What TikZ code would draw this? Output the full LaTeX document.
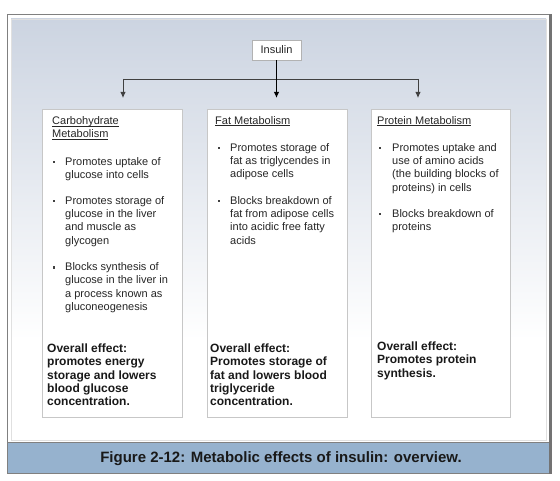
\documentclass[tikz,border=0pt]{standalone}
\usepackage{fontspec}
\setmainfont{Liberation Sans}
\usetikzlibrary{arrows.meta}
\definecolor{capblue}{RGB}{150,178,206}
\definecolor{paneltop}{RGB}{204,212,225}
\newcommand\titleul[1]{\underline{\raisebox{0pt}[\height][0pt]{#1}}}
\begin{document}
\begin{tikzpicture}[x=1pt,y=-1pt,
  txt/.style={anchor=north west, inner sep=0pt, align=left, text=black!85,
    font=\fontsize{11}{13.3}\selectfont},
  boldtxt/.style={anchor=north west, inner sep=0pt, align=left, text=black!90,
    font=\fontsize{12}{13.4}\selectfont\bfseries},
  bul/.style={rectangle, fill=black!75, minimum size=2.2pt, inner sep=0pt},
  metabox/.style={draw=black!22, fill=white, line width=0.8pt, anchor=north west,
    inner sep=0pt, minimum width=140pt, minimum height=308pt},
  link/.style={draw=black!75, line width=0.9pt},
  arr/.style={link, -{Latex[length=6pt,width=5.5pt]}, shorten >=11pt},
]
\useasboundingbox (0,0) rectangle (560,481);
\fill[white] (0,0) rectangle (560,481);
% frame and panel
\fill[white] (7,14) rectangle (551,474);
\shade[top color=paneltop, bottom color=white] (11,19) rectangle (546,340);
\draw[black!12, line width=0.8pt] (11,19) rectangle (546,440);
\fill[capblue] (8,443) rectangle (550,473);
\draw[black!50, line width=1pt] (8,442.5) -- (550,442.5);
\draw[black!50, line width=1.2pt] (7.5,14.5) rectangle (550,473.5);
\draw[black!55, line width=3pt] (550.5,13.9) -- (550.5,474.1);
\node[font=\fontsize{15}{18}\selectfont\bfseries, text=black!90] (caption) at (281,459)
  {Figure 2-12: Metabolic effects of insulin: overview.};

% insulin
\node[draw=black!30, fill=white, line width=0.8pt, inner xsep=8.5pt, minimum height=20pt,
  font=\fontsize{11}{13}\selectfont, text=black!85] (ins) at (276.5,50) {Insulin};

% boxes
\node[metabox] (carb) at (41.5,109) {};
\node[metabox] (fat) at (206.5,109) {};
\node[metabox, minimum width=139pt] (prot) at (370.5,109) {};

% connectors
\coordinate (hl) at (123,79);
\coordinate (hr) at (418,79);
\draw[link] (hl) -- (hr);
\draw[arr, draw=black, line width=1.3pt] (ins.south) -- (ins.south |- fat.north);
\draw[arr] (hl) -- (hl |- carb.north);
\draw[arr] (hr) -- (hr |- prot.north);

% carbohydrate
\node[txt] (ct) at (52,116.5) {\titleul{Carbohydrate}\\\titleul{Metabolism}};
\node[bul] (cb1) at (54,162) {};
\node[txt] (c1) at (65,157) {Promotes uptake of\\glucose into cells};
\node[bul] (cb2) at (54,201) {};
\node[txt] (c2) at (65,196) {Promotes storage of\\glucose in the liver\\and muscle as\\glycogen};
\node[bul] (cb3) at (54,267.5) {};
\node[txt] (c3) at (65,262.5) {Blocks synthesis of\\glucose in the liver in\\a process known as\\gluconeogenesis};
\node[boldtxt] (co) at (47,343.5) {Overall effect:\\promotes energy\\storage and lowers\\blood glucose\\concentration.};

% fat
\node[txt] (ft) at (215,116) {\titleul{Fat Metabolism}};
\node[bul] (fb1) at (219,148) {};
\node[txt] (f1) at (230,143) {Promotes storage of\\fat as triglycendes in\\adipose cells};
\node[bul] (fb2) at (219,201) {};
\node[txt] (f2) at (230,196) {Blocks breakdown of\\fat from adipose cells\\into acidic free fatty\\acids};
\node[boldtxt] (fo) at (210,343.5) {Overall effect:\\Promotes storage of\\fat and lowers blood\\triglyceride\\concentration.};

% protein
\node[txt] (pt) at (377,116) {\titleul{Protein Metabolism}};
\node[bul] (pb1) at (380,148) {};
\node[txt] (p1) at (392,143) {Promotes uptake and\\use of amino acids\\(the building blocks of\\proteins) in cells};
\node[bul] (pb2) at (380,214) {};
\node[txt] (p2) at (392,209) {Blocks breakdown of\\proteins};
\node[boldtxt] (po) at (377,341.5) {Overall effect:\\Promotes protein\\synthesis.};
\end{tikzpicture}
\end{document}
